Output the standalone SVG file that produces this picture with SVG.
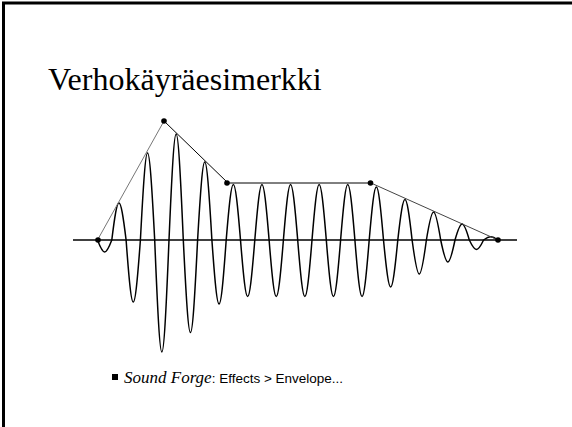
<svg xmlns="http://www.w3.org/2000/svg" width="572" height="427" viewBox="0 0 572 427">
<style>
.title{font-family:"Liberation Serif","Times New Roman",serif;font-size:32px;fill:#000}
.ital{font-family:"Liberation Serif","Times New Roman",serif;font-style:italic;font-size:17px}
.sans{font-family:"Liberation Sans",Arial,sans-serif;font-size:13.5px}
.wave{fill:none;stroke:#000;stroke-width:1.5}
.env{fill:none;stroke-width:1}
.dot{fill:#000}
</style>
<rect width="572" height="427" fill="#fff"/>
<path d="M3.5,427 V3 H572" fill="none" stroke="#000" stroke-width="3"/>
<text id="title" class="title" x="48" y="90">Verhokäyräesimerkki</text>
<g id="axis"><line x1="73" y1="240" x2="517" y2="240" stroke="#000" stroke-width="1.5"/></g>
<g id="waveform">
<path class="wave" d="M97.5,240 C103.57,256 105.73,256 111.8,240 C117.87,190.67 120.03,190.67 126.1,240 C132.17,322.67 134.33,322.67 140.4,240 C146.47,124 148.63,124 154.7,240 C160.77,389.33 162.93,389.33 169,240 C175.07,98.67 177.23,98.67 183.3,240 C189.37,363.33 191.53,363.33 197.6,240 C203.67,136 205.83,136 211.9,240 C217.97,325.33 220.13,325.33 226.2,240 C232.27,166 234.43,166 240.5,240 C246.57,315.33 248.73,315.33 254.8,240 C260.87,166 263.03,166 269.1,240 C275.17,315.33 277.33,315.33 283.4,240 C289.47,166 291.63,166 297.7,240 C303.77,315.33 305.93,315.33 312,240 C318.07,166 320.23,166 326.3,240 C332.37,315.33 334.53,315.33 340.6,240 C346.67,166 348.83,166 354.9,240 C360.97,315.33 363.13,315.33 369.2,240 C375.27,169.33 377.43,169.33 383.5,240 C389.57,302.67 391.73,302.67 397.8,240 C403.87,186 406.03,186 412.1,240 C418.17,285.33 420.33,285.33 426.4,240 C432.47,202.67 434.63,202.67 440.7,240 C446.77,269.33 448.93,269.33 455,240 C461.07,218.67 463.23,218.67 469.3,240 C475.37,252.67 477.53,252.67 483.6,240 C489.67,235.73 491.83,235.73 497.9,240"/>
</g>
<g id="envelope">
<line class="env" x1="97.5" y1="240" x2="164" y2="121" stroke="#777"/>
<line class="env" x1="164" y1="121" x2="228" y2="183" stroke="#000"/>
<line class="env" x1="228" y1="183" x2="371" y2="183" stroke="#000" stroke-width="1.5"/>
<line class="env" x1="371" y1="183" x2="498" y2="240" stroke="#444"/>
</g>
<g id="points">
<circle class="dot" cx="98" cy="240" r="2.8"/>
<circle class="dot" cx="164" cy="121" r="2.8"/>
<circle class="dot" cx="227" cy="183" r="2.8"/>
<circle class="dot" cx="370.5" cy="183" r="2.8"/>
<circle class="dot" cx="498" cy="240" r="2.8"/>
</g>
<g id="bullet">
<rect x="112" y="374" width="6" height="6" fill="#000"/>
<text x="124" y="383"><tspan class="ital">Sound Forge</tspan><tspan class="sans">: Effects &gt; Envelope...</tspan></text>
</g>
</svg>
